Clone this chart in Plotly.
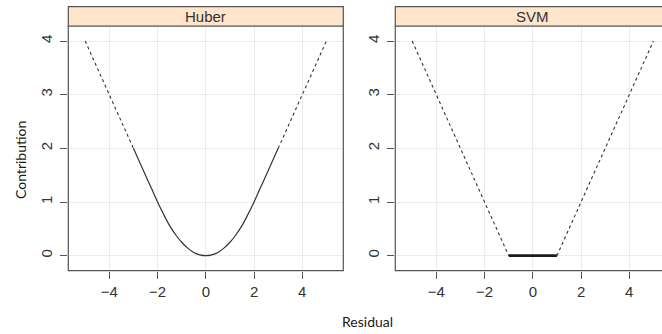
import plotly.graph_objects as go

# Residual / contribution readings for the two loss functions
huber_core_r = [-3.0, -2.75, -2.5, -2.25, -2.0, -1.75, -1.5, -1.25, -1.0, -0.75, -0.5, -0.25,
                0.0, 0.25, 0.5, 0.75, 1.0, 1.25, 1.5, 1.75, 2.0, 2.25, 2.5, 2.75, 3.0]
huber_core_c = [2.0, 1.75, 1.5, 1.25, 1.0, 0.77, 0.56, 0.39, 0.25, 0.14, 0.06, 0.016,
                0.0, 0.016, 0.06, 0.14, 0.25, 0.39, 0.56, 0.77, 1.0, 1.25, 1.5, 1.75, 2.0]
huber_left_r = [-5.0, -3.0]
huber_left_c = [4.0, 2.0]
huber_right_r = [3.0, 5.0]
huber_right_c = [2.0, 4.0]

svm_left_r = [-5.0, -1.0]
svm_left_c = [4.0, 0.0]
svm_core_r = [-1.0, 1.0]
svm_core_c = [0.0, 0.0]
svm_right_r = [1.0, 5.0]
svm_right_c = [0.0, 4.0]

panel_names = ["Huber", "SVM"]
x_ticks = [-4, -2, 0, 2, 4]
y_ticks = [0, 1, 2, 3, 4]

W, H = 662, 334
INK = "#333333"
FRAME = "#555555"
GRID = "#ebebeb"
STRIP = "#FFE5CC"

# panel geometry in pixels
p1 = (68.3, 343.3)
p2 = (395.3, 662.0)
top_px, bot_px, strip_top_px = 26.0, 270.7, 6.7

def px_x(v):
    return v / W

def px_y(v):
    return 1 - v / H

fig = go.Figure()

dash_style = dict(color=INK, width=1.1, dash="3px,3px")
solid_style = dict(color=INK, width=1.2)

for r, c in [(huber_left_r, huber_left_c), (huber_right_r, huber_right_c)]:
    fig.add_trace(go.Scatter(x=r, y=c, mode="lines", line=dash_style,
                             xaxis="x", yaxis="y", showlegend=False, hoverinfo="skip"))
fig.add_trace(go.Scatter(x=huber_core_r, y=huber_core_c, mode="lines",
                         line=dict(solid_style, shape="spline"),
                         xaxis="x", yaxis="y", showlegend=False, hoverinfo="skip"))

for r, c in [(svm_left_r, svm_left_c), (svm_right_r, svm_right_c)]:
    fig.add_trace(go.Scatter(x=r, y=c, mode="lines", line=dash_style,
                             xaxis="x2", yaxis="y2", showlegend=False, hoverinfo="skip"))
fig.add_trace(go.Scatter(x=svm_core_r, y=svm_core_c, mode="lines",
                         line=dict(color="#1a1a1a", width=2.8),
                         xaxis="x2", yaxis="y2", showlegend=False, hoverinfo="skip"))

tick_font = dict(family="Liberation Sans, Arial, sans-serif", size=15, color=INK)

def xaxis(domain, rng):
    return dict(domain=domain, range=rng, tickvals=x_ticks, ticks="outside", ticklen=7,
                tickcolor=FRAME, tickwidth=1, showgrid=True, gridcolor=GRID, gridwidth=1,
                zeroline=False, showline=False, tickfont=tick_font, fixedrange=True)

def yaxis(domain, anchor):
    return dict(domain=domain, range=[-0.28, 4.28], tickvals=y_ticks, ticks="outside",
                ticklen=7, tickcolor=FRAME, tickwidth=1, showgrid=True, gridcolor=GRID,
                gridwidth=1, zeroline=False, showline=False, tickfont=tick_font,
                tickangle=-90, anchor=anchor, fixedrange=True, ticklabelstandoff=2)

ydom = [px_y(bot_px), px_y(top_px)]
x1_rng = [-5.7, 5.7]
x2_rng = [-5.7, -5.7 + (p2[1] - p2[0]) / ((p1[1] - p1[0]) / 11.4)]

fig.update_layout(
    width=W, height=H, margin=dict(l=0, r=0, t=0, b=0),
    paper_bgcolor="white", plot_bgcolor="white",
    xaxis=xaxis([px_x(p1[0]), px_x(p1[1])], x1_rng),
    yaxis=yaxis(ydom, "x"),
    xaxis2=xaxis([px_x(p2[0]), px_x(p2[1])], x2_rng),
    yaxis2=yaxis(ydom, "x2"),
)
fig.layout.xaxis.anchor = "y"
fig.layout.xaxis2.anchor = "y2"

shapes = []
annotations = []
for (x0, x1), name in zip([p1, p2], panel_names):
    xr = x1 if x1 < W else W + 5
    # panel frame
    shapes.append(dict(type="rect", xref="paper", yref="paper",
                       x0=px_x(x0), x1=px_x(xr), y0=px_y(bot_px), y1=px_y(top_px),
                       line=dict(color=FRAME, width=1.2), fillcolor="rgba(0,0,0,0)",
                       layer="above"))
    # strip
    shapes.append(dict(type="rect", xref="paper", yref="paper",
                       x0=px_x(x0), x1=px_x(xr), y0=px_y(top_px), y1=px_y(strip_top_px),
                       line=dict(color=FRAME, width=1.2), fillcolor=STRIP, layer="above"))
    cx = (x0 + (x0 + (p1[1] - p1[0]))) / 2
    annotations.append(dict(text=name, xref="paper", yref="paper",
                            x=px_x(cx), y=px_y((top_px + strip_top_px) / 2),
                            showarrow=False, xanchor="center", yanchor="middle",
                            font=dict(family="Liberation Sans, Arial, sans-serif",
                                      size=15, color=INK)))

label_font = dict(family="Lato, Open Sans, sans-serif", size=14, color="#1a1a1a")
annotations.append(dict(text="Residual", xref="paper", yref="paper",
                        x=px_x(367), y=px_y(321), showarrow=False,
                        xanchor="center", yanchor="middle", font=label_font))
annotations.append(dict(text="Contribution", xref="paper", yref="paper",
                        x=px_x(20), y=px_y(160), showarrow=False, textangle=-90,
                        xanchor="center", yanchor="middle", font=label_font))

fig.update_layout(shapes=shapes, annotations=annotations)

fig.write_html("out.html")
